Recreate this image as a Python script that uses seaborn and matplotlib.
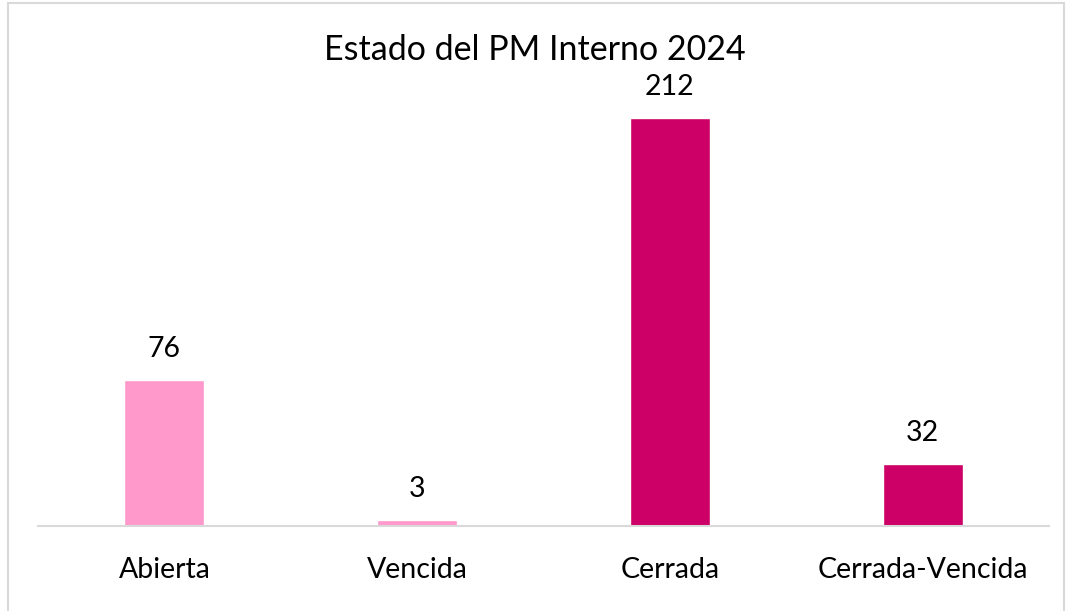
import matplotlib
matplotlib.use("Agg")
import matplotlib.pyplot as plt
import matplotlib.patches as mpatches
import pandas as pd
import seaborn as sns

categorias = ["Abierta", "Vencida", "Cerrada", "Cerrada-Vencida"]
valores = [76, 3, 212, 32]
colores = ["#FF99CC", "#FF99CC", "#CC0066", "#CC0066"]

df = pd.DataFrame({"estado": categorias, "total": valores})

sns.set_theme(style="white")
plt.rcParams["font.family"] = ["Lato", "DejaVu Sans"]

fig = plt.figure(figsize=(10.7, 6.11), dpi=100)
ax = fig.add_axes([38 / 1070, 85 / 611, (1049 - 38) / 1070, 446 / 611])

sns.barplot(data=df, x="estado", y="total", hue="estado",
            palette=dict(zip(categorias, colores)), width=0.317,
            legend=False, ax=ax, saturation=1)

ax.set_ylim(0, 231.5)
ax.set_xlim(-0.5, 3.5)
ax.set_xlabel("")
ax.set_ylabel("")
ax.set_yticks([])
ax.tick_params(axis="x", length=0, labelsize=20.5, pad=22, colors="black")
for s in ["top", "right", "left"]:
    ax.spines[s].set_visible(False)
ax.spines["bottom"].set_color("#D9D9D9")
ax.spines["bottom"].set_linewidth(1.5)

for i, v in enumerate(valores):
    ax.annotate(str(v), (i, v), xytext=(0, 13), textcoords="offset points",
                ha="center", va="bottom", fontsize=20.5, color="black")

fig.text(0.5, 1 - 50 / 611, "Estado del PM Interno 2024", ha="center",
         va="center", fontsize=24.5, color="black")

fig.patches.append(mpatches.Rectangle((8 / 1070, -0.01), 1056 / 1070, 1 - 3 / 611 + 0.01,
                                      transform=fig.transFigure, fill=False,
                                      edgecolor="#D9D9D9", linewidth=1.5))

fig.savefig("out.png", dpi=100)
